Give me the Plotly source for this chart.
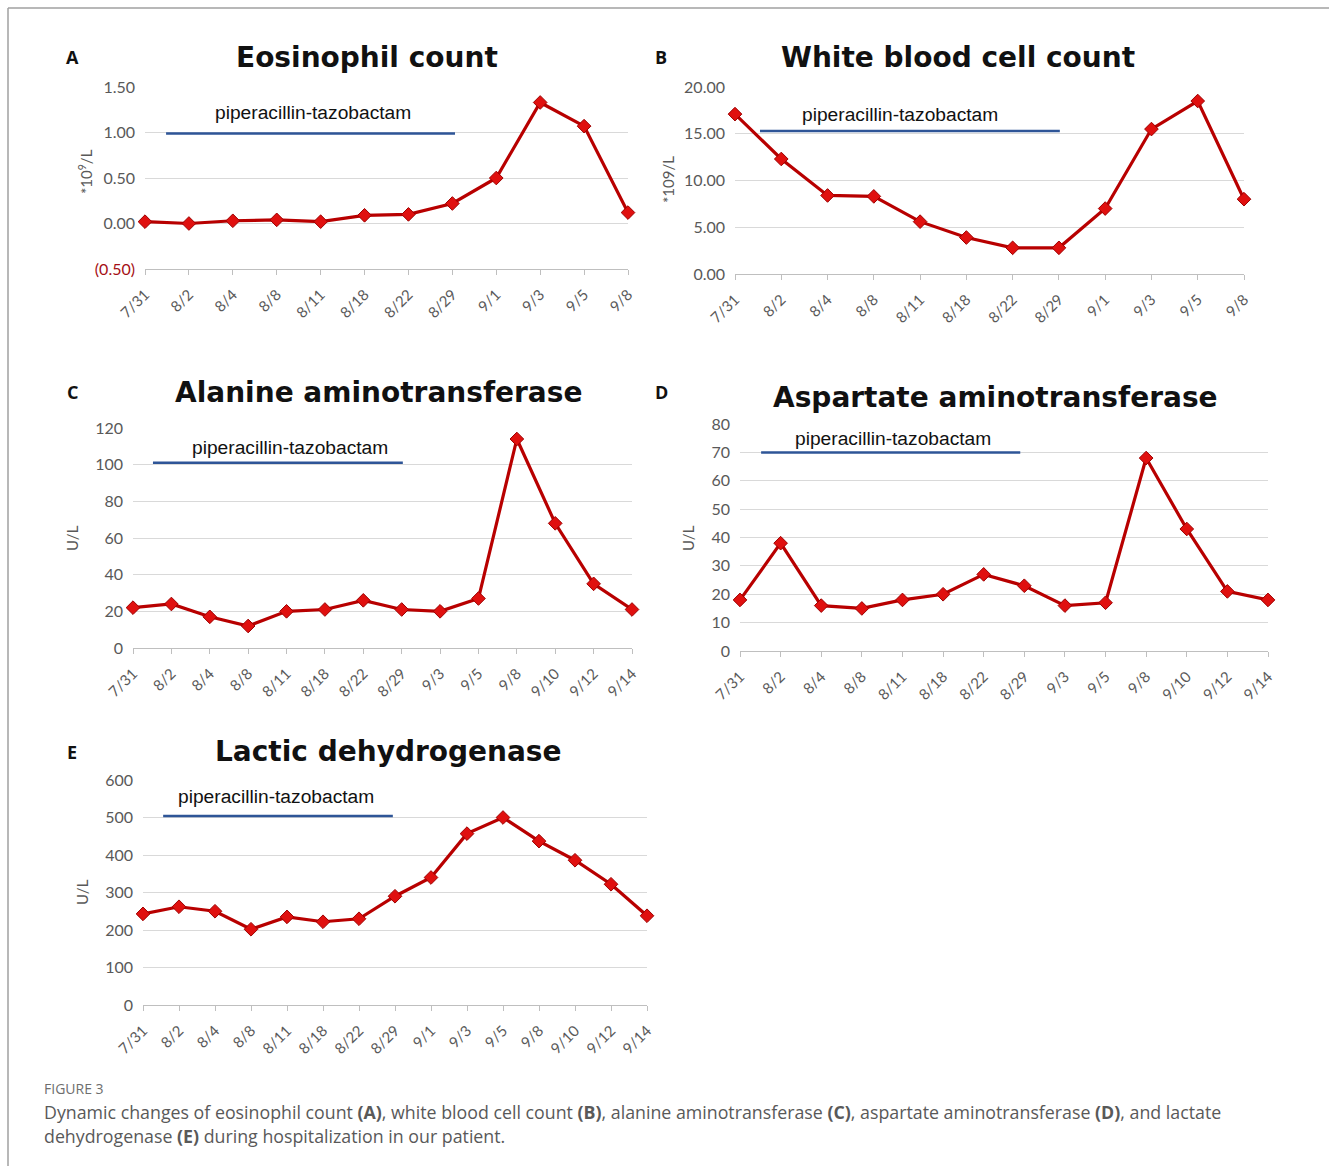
import plotly.graph_objects as go

W, H = 1329, 1166

# ---------------- data ----------------
dates_A = ["7/31", "8/2", "8/4", "8/8", "8/11", "8/18", "8/22", "8/29", "9/1", "9/3", "9/5", "9/8"]
eos_A = [0.02, 0.00, 0.03, 0.04, 0.02, 0.09, 0.10, 0.22, 0.50, 1.33, 1.07, 0.12]

dates_B = ["7/31", "8/2", "8/4", "8/8", "8/11", "8/18", "8/22", "8/29", "9/1", "9/3", "9/5", "9/8"]
wbc_B = [17.1, 12.3, 8.4, 8.3, 5.6, 3.9, 2.8, 2.8, 7.0, 15.5, 18.5, 8.0]

dates_C = ["7/31", "8/2", "8/4", "8/8", "8/11", "8/18", "8/22", "8/29", "9/3", "9/5", "9/8", "9/10", "9/12", "9/14"]
alt_C = [22, 24, 17, 12, 20, 21, 26, 21, 20, 27, 114, 68, 35, 21]

dates_D = ["7/31", "8/2", "8/4", "8/8", "8/11", "8/18", "8/22", "8/29", "9/3", "9/5", "9/8", "9/10", "9/12", "9/14"]
ast_D = [18, 38, 16, 15, 18, 20, 27, 23, 16, 17, 68, 43, 21, 18]

dates_E = ["7/31", "8/2", "8/4", "8/8", "8/11", "8/18", "8/22", "8/29", "9/1", "9/3", "9/5", "9/8", "9/10", "9/12", "9/14"]
ldh_E = [243, 262, 250, 202, 235, 222, 230, 290, 340, 457, 500, 437, 386, 322, 238]

# treatment period bar (start index, end index, level, label level, label index)
pip_A = (0.48, 7.06, 0.99, 1.22, 3.83)
pip_B = (0.54, 7.02, 15.3, 17.1, 3.57)
pip_C = (0.52, 7.03, 101, 109.5, 4.09)
pip_D = (0.52, 6.90, 70, 75, 3.77)
pip_E = (0.56, 6.94, 504, 555, 3.69)

ticks_A = [-0.5, 0.0, 0.5, 1.0, 1.5]
ticklabels_A = ["<span style='color:#A50F15'>(0.50)</span>", "0.00", "0.50", "1.00", "1.50"]
ticks_B = [0, 5, 10, 15, 20]
ticklabels_B = ["0.00", "5.00", "10.00", "15.00", "20.00"]
ticks_C = [0, 20, 40, 60, 80, 100, 120]
ticks_D = [0, 10, 20, 30, 40, 50, 60, 70, 80]
ticks_E = [0, 100, 200, 300, 400, 500, 600]

drug = "piperacillin-tazobactam"

# ---------------- layout helpers ----------------
def px(x):
    return x / W

def py(y):
    return 1 - y / H

fig = go.Figure()

LINE_RED = "#B80000"
MARK_RED = "#E0100F"
GRID = "#D9D9D9"
TICKC = "#595959"

panels = [
    dict(n="", dates=dates_A, vals=eos_A, pip=pip_A, box=(145, 628, 87, 269),
         yr=(-0.5, 1.5), tv=ticks_A, tt=ticklabels_A,
         title="Eosinophil count", tpos=(367, 58), letter="A", lpos=(72, 57),
         ylab="*10<sup>9</sup>/L", ylpos=(85, 172)),
    dict(n="2", dates=dates_B, vals=wbc_B, pip=pip_B, box=(735, 1244, 87, 274),
         yr=(0, 20), tv=ticks_B, tt=ticklabels_B,
         title="White blood cell count", tpos=(958, 58), letter="B", lpos=(661, 57),
         ylab="*109/L", ylpos=(668, 180)),
    dict(n="3", dates=dates_C, vals=alt_C, pip=pip_C, box=(133, 632, 428, 648),
         yr=(0, 120), tv=ticks_C, tt=[str(v) for v in ticks_C],
         title="Alanine aminotransferase", tpos=(378, 392), letter="C", lpos=(72, 392),
         ylab="U/L", ylpos=(72, 538)),
    dict(n="4", dates=dates_D, vals=ast_D, pip=pip_D, box=(740, 1268, 424, 651),
         yr=(0, 80), tv=ticks_D, tt=[str(v) for v in ticks_D],
         title="Aspartate aminotransferase", tpos=(996, 397), letter="D", lpos=(661, 392),
         ylab="U/L", ylpos=(688, 538)),
    dict(n="5", dates=dates_E, vals=ldh_E, pip=pip_E, box=(143, 647, 780, 1005),
         yr=(0, 600), tv=ticks_E, tt=[str(v) for v in ticks_E],
         title="Lactic dehydrogenase", tpos=(388, 751), letter="E", lpos=(72, 752),
         ylab="U/L", ylpos=(82, 892)),
]

annotations = []
shapes = []
layout_axes = {}

for p in panels:
    n = p["n"]
    xref = "x" + n
    yref = "y" + n
    x0, x1, yt, yb = p["box"]
    idx = list(range(len(p["dates"])))

    fig.add_trace(go.Scatter(
        x=idx, y=p["vals"], xaxis=xref, yaxis=yref, mode="lines+markers",
        line=dict(color=LINE_RED, width=3.2),
        marker=dict(symbol="diamond", size=10.5, color=MARK_RED,
                    line=dict(color="#9E0000", width=1)),
        cliponaxis=False, showlegend=False, hoverinfo="x+y"))

    s, e, lvl, lab_y, lab_x = p["pip"]
    shapes.append(dict(type="line", xref=xref, yref=yref, x0=s, x1=e, y0=lvl, y1=lvl,
                       line=dict(color="#2E5597", width=2.5), layer="above"))
    annotations.append(dict(xref=xref, yref=yref, x=lab_x, y=lab_y, text=drug,
                            showarrow=False, xanchor="center", yanchor="middle",
                            font=dict(family="Liberation Sans, Arial", size=19.2, color="#111111")))

    layout_axes["xaxis" + n] = dict(
        domain=[px(x0), px(x1)], anchor=yref, range=[0, len(idx) - 1],
        tickmode="array", tickvals=idx, ticktext=p["dates"], tickangle=-45,
        tickfont=dict(family="Lato, Open Sans", size=15, color=TICKC),
        showgrid=False, zeroline=False, showline=True, linecolor="#BFBFBF", linewidth=1,
        ticks="outside", ticklen=5, tickcolor="#BFBFBF", ticklabelstandoff=5,
        fixedrange=True, automargin=False)
    layout_axes["yaxis" + n] = dict(
        domain=[py(yb), py(yt)], anchor=xref, range=list(p["yr"]),
        tickmode="array", tickvals=p["tv"], ticktext=p["tt"],
        tickfont=dict(family="Lato, Open Sans", size=16, color=TICKC),
        showgrid=True, gridcolor=GRID, gridwidth=1, zeroline=False, showline=False,
        ticks="", ticklabelstandoff=9, fixedrange=True, automargin=False)

    tx, ty = p["tpos"]
    annotations.append(dict(xref="paper", yref="paper", x=px(tx), y=py(ty), text="<b>" + p["title"] + "</b>",
                            showarrow=False, xanchor="center", yanchor="middle",
                            font=dict(family="DejaVu Sans", size=28, color="#111111")))
    lx, ly = p["lpos"]
    annotations.append(dict(xref="paper", yref="paper", x=px(lx), y=py(ly), text="<b>" + p["letter"] + "</b>",
                            showarrow=False, xanchor="center", yanchor="middle",
                            font=dict(family="Open Sans", size=18, color="#111111")))
    yx, yy = p["ylpos"]
    annotations.append(dict(xref="paper", yref="paper", x=px(yx), y=py(yy), text=p["ylab"],
                            showarrow=False, xanchor="center", yanchor="middle", textangle=-90,
                            font=dict(family="Lato, Open Sans", size=15, color=TICKC)))

# caption
annotations.append(dict(xref="paper", yref="paper", x=px(42), y=py(1088), text="FIGURE 3",
                        showarrow=False, xanchor="left", yanchor="middle",
                        font=dict(family="Open Sans", size=14, color="#6E6E6E")))
annotations.append(dict(xref="paper", yref="paper", x=px(42), y=py(1112),
                        text="Dynamic changes of eosinophil count <b>(A)</b>, white blood cell count <b>(B)</b>, "
                             "alanine aminotransferase <b>(C)</b>, aspartate aminotransferase <b>(D)</b>, and lactate",
                        showarrow=False, xanchor="left", yanchor="middle",
                        font=dict(family="Open Sans", size=17.8, color="#595959")))
annotations.append(dict(xref="paper", yref="paper", x=px(42), y=py(1136),
                        text="dehydrogenase <b>(E)</b> during hospitalization in our patient.",
                        showarrow=False, xanchor="left", yanchor="middle",
                        font=dict(family="Open Sans", size=17.8, color="#595959")))

# page frame lines
shapes.append(dict(type="line", xref="paper", yref="paper", x0=px(8), x1=1, y0=py(8), y1=py(8),
                   line=dict(color="#A0A0A0", width=1.5)))
shapes.append(dict(type="line", xref="paper", yref="paper", x0=px(8), x1=px(8), y0=py(8), y1=0,
                   line=dict(color="#A0A0A0", width=1.5)))

fig.update_layout(
    width=W, height=H, margin=dict(l=0, r=0, t=0, b=0, pad=0, autoexpand=False),
    paper_bgcolor="white", plot_bgcolor="white",
    annotations=annotations, shapes=shapes, showlegend=False,
    **layout_axes)

fig.write_html("out.html", config={"displayModeBar": False},
               post_script="document.body.style.margin='0px';document.body.style.overflow='hidden';")
